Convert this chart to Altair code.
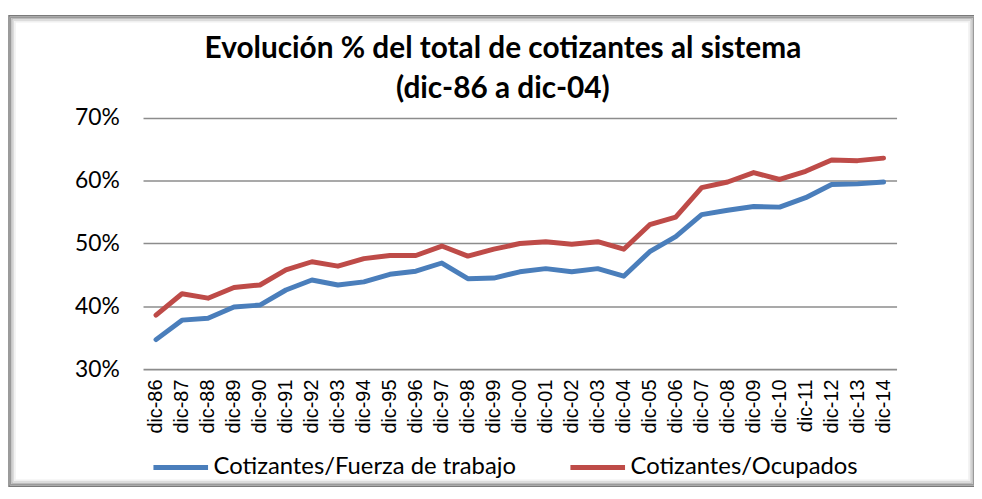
import altair as alt
import pandas as pd

years = ["dic-86", "dic-87", "dic-88", "dic-89", "dic-90", "dic-91", "dic-92", "dic-93",
         "dic-94", "dic-95", "dic-96", "dic-97", "dic-98", "dic-99", "dic-00", "dic-01",
         "dic-02", "dic-03", "dic-04", "dic-05", "dic-06", "dic-07", "dic-08", "dic-09",
         "dic-10", "dic-11", "dic-12", "dic-13", "dic-14"]
fuerza = [34.7, 37.8, 38.1, 39.9, 40.2, 42.6, 44.2, 43.4, 43.9, 45.1, 45.6, 46.9, 44.4, 44.5,
          45.5, 46.0, 45.5, 46.0, 44.8, 48.7, 51.1, 54.6, 55.3, 55.9, 55.8, 57.3, 59.4, 59.5, 59.8]
ocupados = [38.6, 42.0, 41.3, 43.0, 43.4, 45.8, 47.1, 46.4, 47.6, 48.1, 48.1, 49.6, 48.0, 49.1,
            50.0, 50.3, 49.9, 50.3, 49.1, 53.0, 54.2, 58.9, 59.8, 61.3, 60.2, 61.5, 63.3, 63.2, 63.6]
series_names = ["Cotizantes/Fuerza de trabajo", "Cotizantes/Ocupados"]
series_colors = ["#4a7ebb", "#be4b48"]

rows = []
for name, vals in zip(series_names, [fuerza, ocupados]):
    for y, v in zip(years, vals):
        rows.append({"periodo": y, "serie": name, "valor": v / 100})
df = pd.DataFrame(rows)

W, H = 759, 253

lines = alt.Chart(df).mark_line(strokeWidth=5, strokeCap="round", strokeJoin="round").encode(
    x=alt.X("periodo:N", sort=years, title=None,
            scale=alt.Scale(padding=0.5),
            axis=alt.Axis(labelAngle=-90, labelFont="Liberation Sans", labelFontSize=20,
                          labelColor="#000000", labelPadding=10, ticks=False, domain=False)),
    y=alt.Y("valor:Q", title=None,
            scale=alt.Scale(domain=[0.3, 0.7], nice=False, zero=False),
            axis=alt.Axis(values=[0.3, 0.4, 0.5, 0.6, 0.7], format=".0%", labelFont="Lato",
                          labelFontSize=23, labelColor="#000000", labelPadding=24,
                          ticks=False, domain=False, grid=True, gridColor="#8c8c8c",
                          gridWidth=1.6)),
    color=alt.Color("serie:N", sort=series_names,
                    scale=alt.Scale(domain=series_names, range=series_colors),
                    legend=alt.Legend(title=None, orient="none", legendX=8, legendY=322,
                                      direction="horizontal", symbolType="stroke",
                                      symbolSize=3025, symbolStrokeWidth=5,
                                      labelFont="Lato", labelFontSize=24, labelColor="#000000",
                                      labelOffset=3, columnPadding=44, labelLimit=500)),
)

frame_df = pd.DataFrame({"k": [0]})
frame_layers = []
shades = ["#7a7a7a", "#9a9a9a", "#bcbcbc", "#dcdcdc", "#f0f0f0"]
for i, c in enumerate(shades):
    frame_layers.append(
        alt.Chart(frame_df).mark_rect(fillOpacity=0, stroke=c, strokeWidth=1.5).encode(
            x=alt.value(-136 + 1 + i * 1.5), x2=alt.value(838 - i * 1.5),
            y=alt.value(-104 + 1 + i * 1.5), y2=alt.value(371 - i * 1.5))
    )

chart = alt.layer(*frame_layers, lines).properties(
    width=W, height=H,
    title=alt.TitleParams(
        ["Evolución % del total de cotizantes al sistema", "(dic-86 a dic-04)"],
        font="Lato", fontSize=30, fontWeight="bold", color="#000000",
        anchor="middle", dx=-17, offset=0, dy=90, lineHeight=41),
    padding={"left": 136, "top": 109, "right": 78, "bottom": 120},
    autosize=alt.AutoSizeParams(type="none"),
    background="#ffffff",
).configure_view(stroke=None)

chart.save("out.html", embed_options={"renderer": "svg", "actions": False})
